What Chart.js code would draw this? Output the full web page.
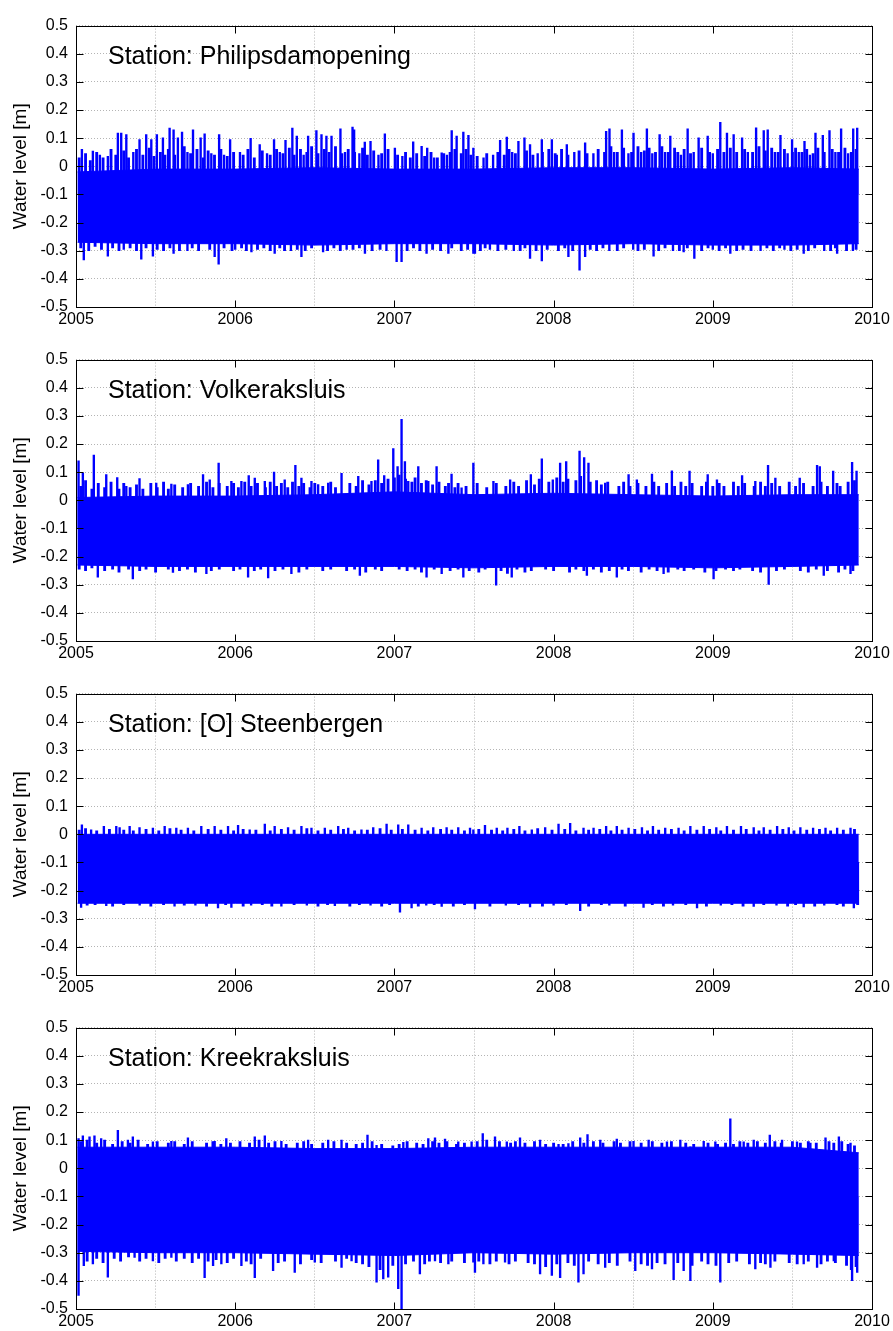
<!DOCTYPE html>
<html>
<head>
<meta charset="utf-8">
<script src="https://cdn.jsdelivr.net/npm/chart.js@4.4.1/dist/chart.umd.min.js"></script>
<style>
html, body { margin: 0; padding: 0; background: #ffffff; width: 893px; height: 1331px; overflow: hidden; }
.panel { position: absolute; left: 0; width: 893px; height: 320px; }
canvas { display: block; }
</style>
</head>
<body>
<div class="panel" style="top:8px"><canvas id="c0" width="893" height="320"></canvas></div>
<div class="panel" style="top:342px"><canvas id="c1" width="893" height="320"></canvas></div>
<div class="panel" style="top:676px"><canvas id="c2" width="893" height="320"></canvas></div>
<div class="panel" style="top:1010px"><canvas id="c3" width="893" height="320"></canvas></div>
<script>
// ---------------- DATA ----------------
const years = [2005, 2006, 2007, 2008, 2009, 2010];
const yTicks = [-0.5, -0.4, -0.3, -0.2, -0.1, 0, 0.1, 0.2, 0.3, 0.4, 0.5];
const stations = ['Station: Philipsdamopening', 'Station: Volkeraksluis', 'Station: [O] Steenbergen', 'Station: Kreekraksluis'];
const yLabel = 'Water level [m]';

// dense tidal band edges
const bandTimes = [2005.01, 2005.5, 2006.0, 2006.5, 2007.0, 2007.5, 2008.0, 2008.5, 2009.0, 2009.5, 2009.917];
const philTop    = [-0.02, -0.01, -0.01, -0.005, -0.01, -0.01, -0.005, -0.005, -0.01, -0.005, -0.01];
const philBottom = [-0.27, -0.275, -0.275, -0.28, -0.275, -0.275, -0.28, -0.275, -0.28, -0.28, -0.275];
const volkTop    = [0.01, 0.015, 0.015, 0.02, 0.03, 0.02, 0.025, 0.02, 0.015, 0.02, 0.02];
const volkBottom = [-0.23, -0.235, -0.235, -0.235, -0.235, -0.24, -0.235, -0.235, -0.24, -0.235, -0.23];
const steenTop    = [0.0, 0.0, 0.0, 0.0, 0.0, 0.0, 0.0, 0.0, 0.0, 0.0, 0.0];
const steenBottom = [-0.245, -0.245, -0.245, -0.245, -0.245, -0.245, -0.245, -0.245, -0.245, -0.245, -0.245];
const kreekTop    = [0.075, 0.075, 0.075, 0.07, 0.07, 0.075, 0.075, 0.075, 0.075, 0.075, 0.055];
const kreekBottom = [-0.295, -0.30, -0.30, -0.305, -0.31, -0.30, -0.305, -0.30, -0.30, -0.305, -0.31];

// spike extremes [time, level]
const philUp = [[2005.037,.060],[2005.106,.054],[2005.263,.118],[2005.284,.118],[2005.316,.113],[2005.399,.095],[2005.441,.113],[2005.473,.095],[2005.508,.113],[2005.546,.101],
 [2005.588,.136],[2005.613,.130],[2005.640,.101],[2005.666,.122],[2005.735,.130],[2005.783,.101],[2005.808,.115],[2005.899,.113],[2005.968,.095],
 [2006.097,.099],[2006.154,.077],[2006.244,.095],[2006.316,.092],[2006.359,.136],[2006.387,.107],[2006.458,.107],[2006.510,.127],[2006.542,.113],[2006.573,.107],
 [2006.605,.107],[2006.661,.133],[2006.737,.139],[2006.747,.130],[2006.814,.086],[2006.850,.089],[2006.940,.115],
 [2007.003,.065],[2007.118,.087],[2007.171,.071],[2007.206,.065],[2007.297,.048],[2007.360,.127],[2007.391,.107],[2007.433,.122],[2007.465,.110],[2007.496,.065],
 [2007.664,.092],[2007.706,.104],[2007.779,.089],[2007.817,.101],[2007.852,.077],[2007.926,.095],[2007.989,.095],
 [2008.083,.077],[2008.198,.083],[2008.330,.124],[2008.351,.133],[2008.429,.130],[2008.502,.118],[2008.586,.133],[2008.666,.113],[2008.733,.107],[2008.842,.133],[2008.911,.101],[2008.968,.107],
 [2009.047,.156],[2009.089,.118],[2009.131,.113],[2009.184,.101],[2009.272,.137],[2009.320,.127],[2009.345,.130],[2009.425,.110],[2009.498,.095],[2009.576,.089],[2009.645,.118],[2009.691,.110],[2009.733,.127],[2009.806,.133],[2009.882,.133],[2009.907,.136],
 [2005.15,.04],[2005.20,.035],[2005.36,.05],[2005.56,.04],[2005.70,.05],[2005.85,.045],[2005.93,.04],
 [2006.03,.05],[2006.20,.045],[2006.28,.05],[2006.43,.04],[2006.69,.05],[2006.78,.045],[2006.90,.04],
 [2007.05,.035],[2007.25,.03],[2007.33,.04],[2007.56,.03],[2007.62,.04],[2007.74,.05],[2007.90,.045],
 [2008.02,.04],[2008.13,.05],[2008.25,.045],[2008.38,.05],[2008.47,.045],[2008.55,.05],[2008.62,.045],[2008.70,.05],[2008.80,.04],[2008.88,.05],
 [2009.00,.045],[2009.22,.05],[2009.39,.05],[2009.47,.045],[2009.54,.05],[2009.61,.04],[2009.77,.05],[2009.85,.045]];
const philGrassUp = [[2005.02,.03],[2005.06,.045],[2005.09,.02],[2005.13,.05],[2005.17,.03],[2005.22,.06],[2005.25,.04],[2005.30,.055],[2005.33,.03],[2005.38,.06],
 [2005.42,.04],[2005.46,.065],[2005.49,.035],[2005.53,.05],[2005.58,.06],[2005.62,.04],[2005.68,.07],[2005.72,.045],[2005.76,.06],[2005.80,.03],[2005.83,.055],
 [2005.87,.04],[2005.91,.06],[2005.95,.035],[2005.99,.05],
 [2006.05,.04],[2006.08,.06],[2006.12,.03],[2006.17,.055],[2006.22,.04],[2006.26,.06],[2006.30,.045],[2006.34,.065],[2006.37,.04],[2006.41,.06],[2006.45,.05],
 [2006.48,.07],[2006.52,.045],[2006.56,.06],[2006.59,.05],[2006.63,.07],[2006.67,.045],[2006.71,.06],[2006.75,.05],[2006.80,.065],[2006.83,.04],[2006.87,.055],
 [2006.92,.045],[2006.96,.06],
 [2007.02,.04],[2007.07,.05],[2007.10,.03],[2007.14,.045],[2007.19,.035],[2007.23,.05],[2007.27,.03],[2007.31,.045],[2007.35,.05],[2007.38,.06],[2007.42,.045],
 [2007.45,.06],[2007.48,.04],[2007.52,.035],[2007.58,.045],[2007.65,.05],[2007.69,.04],[2007.72,.06],[2007.76,.045],[2007.83,.055],[2007.87,.04],[2007.93,.05],[2007.97,.06],
 [2008.01,.045],[2008.05,.06],[2008.09,.04],[2008.16,.055],[2008.21,.045],[2008.28,.06],[2008.32,.05],[2008.36,.07],[2008.40,.05],[2008.44,.065],[2008.49,.05],
 [2008.53,.07],[2008.57,.055],[2008.60,.065],[2008.64,.05],[2008.68,.07],[2008.72,.05],[2008.76,.065],[2008.78,.05],[2008.82,.06],[2008.86,.045],[2008.93,.065],[2008.98,.05],
 [2009.03,.06],[2009.07,.05],[2009.11,.065],[2009.15,.05],[2009.20,.06],[2009.25,.05],[2009.29,.07],[2009.33,.055],[2009.37,.065],[2009.41,.05],[2009.45,.06],
 [2009.50,.05],[2009.52,.065],[2009.56,.05],[2009.59,.06],[2009.63,.045],[2009.66,.065],[2009.70,.05],[2009.75,.06],[2009.79,.05],[2009.83,.065],[2009.87,.05],[2009.90,.06]];
const philDown = [[2005.049,-.333],[2005.200,-.319],[2005.410,-.330],[2005.483,-.319],[2005.613,-.310],[2005.871,-.321],[2005.896,-.348],[2006.102,-.304],[2006.248,-.310],
 [2006.416,-.321],[2006.552,-.304],[2006.815,-.310],[2007.014,-.339],[2007.045,-.339],[2007.202,-.310],[2007.339,-.310],[2007.496,-.310],[2007.506,-.310],
 [2007.852,-.327],[2007.926,-.336],[2008.093,-.321],[2008.163,-.369],[2008.198,-.321],[2008.628,-.319],[2008.817,-.304],[2008.884,-.327],[2009.110,-.310],[2009.571,-.310],[2009.781,-.310],
 [2005.30,-.295],[2005.70,-.30],[2006.00,-.295],[2006.35,-.30],[2006.70,-.295],[2006.95,-.30],[2007.60,-.295],[2007.75,-.30],[2008.35,-.30],[2008.50,-.295],
 [2008.75,-.30],[2009.00,-.295],[2009.30,-.30],[2009.45,-.295],[2009.70,-.30],[2009.88,-.30]];
const philGrassDown = [[2005.03,-.29],[2005.08,-.30],[2005.12,-.285],[2005.16,-.295],[2005.23,-.29],[2005.27,-.30],[2005.34,-.29],[2005.38,-.30],[2005.44,-.29],[2005.51,-.295],
 [2005.55,-.30],[2005.59,-.29],[2005.65,-.30],[2005.73,-.29],[2005.77,-.30],[2005.84,-.295],[2005.93,-.29],[2005.98,-.30],
 [2006.04,-.29],[2006.07,-.30],[2006.14,-.295],[2006.18,-.29],[2006.22,-.30],[2006.28,-.29],[2006.31,-.30],[2006.39,-.295],[2006.44,-.30],[2006.48,-.29],[2006.58,-.30],
 [2006.62,-.29],[2006.66,-.30],[2006.74,-.295],[2006.78,-.29],[2006.86,-.30],[2006.91,-.295],
 [2007.08,-.30],[2007.12,-.29],[2007.16,-.30],[2007.24,-.295],[2007.29,-.30],[2007.36,-.29],[2007.42,-.30],[2007.46,-.295],[2007.54,-.30],[2007.57,-.29],[2007.65,-.30],
 [2007.70,-.295],[2007.79,-.30],[2007.82,-.29],[2007.89,-.30],[2007.96,-.295],
 [2008.03,-.30],[2008.07,-.29],[2008.12,-.30],[2008.23,-.295],[2008.27,-.30],[2008.31,-.29],[2008.40,-.30],[2008.44,-.29],[2008.53,-.30],[2008.57,-.295],[2008.66,-.30],
 [2008.70,-.29],[2008.79,-.30],[2008.84,-.29],[2008.93,-.30],[2008.97,-.29],
 [2009.04,-.30],[2009.08,-.29],[2009.15,-.30],[2009.19,-.295],[2009.24,-.30],[2009.34,-.29],[2009.38,-.30],[2009.42,-.29],[2009.49,-.30],[2009.53,-.295],[2009.60,-.30],
 [2009.64,-.29],[2009.74,-.30],[2009.77,-.29],[2009.84,-.30],[2009.90,-.295]];

const volkUp = [[2005.016,.140],[2005.043,.097],[2005.112,.161],[2005.190,.091],[2005.259,.081],[2005.316,.050],[2005.399,.077],[2005.504,.061],[2005.599,.058],[2005.703,.056],
 [2005.798,.091],[2005.840,.073],[2005.896,.132],[2005.976,.067],[2006.039,.067],[2006.085,.088],[2006.123,.079],[2006.186,.067],[2006.244,.100],[2006.311,.073],
 [2006.378,.124],[2006.416,.079],[2006.479,.067],[2006.521,.056],[2006.584,.061],[2006.668,.096],[2006.773,.085],[2006.856,.067],[2006.898,.144],[2006.936,.088],
 [2006.993,.184],[2007.020,.120],[2007.045,.288],[2007.066,.138],[2007.087,.067],[2007.150,.120],[2007.213,.067],[2007.265,.120],[2007.359,.093],[2007.422,.044],[2007.496,.132],
 [2007.622,.067],[2007.727,.073],[2007.857,.091],[2007.926,.147],[2007.995,.073],[2008.041,.132],[2008.079,.138],[2008.163,.175],[2008.192,.152],[2008.219,.132],
 [2008.324,.061],[2008.471,.091],[2008.523,.073],[2008.618,.093],[2008.743,.105],[2008.854,.104],[2008.968,.091],[2009.026,.073],[2009.184,.088],[2009.267,.067],
 [2009.347,.124],[2009.393,.079],[2009.546,.079],[2009.655,.124],[2009.672,.120],[2009.756,.104],[2009.875,.135],[2009.903,.104]];
const volkGrassUp = [[2005.03,.05],[2005.06,.07],[2005.10,.04],[2005.14,.06],[2005.18,.045],[2005.22,.065],[2005.27,.04],[2005.30,.06],[2005.34,.045],[2005.38,.055],
 [2005.42,.04],[2005.47,.06],[2005.51,.045],[2005.55,.065],[2005.58,.04],[2005.62,.055],[2005.67,.045],[2005.72,.06],[2005.77,.05],[2005.82,.065],[2005.86,.045],
 [2005.90,.06],[2005.95,.05],[2005.99,.06],
 [2006.02,.045],[2006.06,.065],[2006.10,.05],[2006.14,.06],[2006.19,.045],[2006.22,.065],[2006.26,.05],[2006.29,.06],[2006.33,.045],[2006.36,.065],[2006.40,.05],
 [2006.43,.06],[2006.47,.045],[2006.50,.06],[2006.55,.05],[2006.60,.065],[2006.63,.045],[2006.72,.06],[2006.76,.05],[2006.80,.07],[2006.84,.055],[2006.88,.07],
 [2006.92,.06],[2006.96,.075],
 [2007.00,.08],[2007.03,.09],[2007.07,.075],[2007.11,.065],[2007.13,.08],[2007.17,.06],[2007.20,.07],[2007.24,.055],[2007.28,.065],[2007.32,.05],[2007.34,.06],
 [2007.38,.045],[2007.40,.06],[2007.45,.05],[2007.52,.06],[2007.58,.045],[2007.64,.06],[2007.70,.05],[2007.75,.065],[2007.78,.05],[2007.83,.07],[2007.88,.055],
 [2007.91,.075],[2007.97,.065],
 [2008.02,.08],[2008.06,.065],[2008.09,.075],[2008.14,.07],[2008.17,.085],[2008.23,.065],[2008.27,.07],[2008.30,.055],[2008.34,.065],[2008.41,.05],[2008.44,.065],
 [2008.48,.05],[2008.53,.06],[2008.58,.05],[2008.63,.065],[2008.66,.05],[2008.71,.06],[2008.76,.05],[2008.80,.065],[2008.83,.05],[2008.87,.06],[2008.93,.05],[2008.96,.065],
 [2009.00,.05],[2009.04,.06],[2009.07,.05],[2009.13,.065],[2009.16,.05],[2009.20,.06],[2009.26,.05],[2009.30,.065],[2009.33,.05],[2009.37,.06],[2009.42,.05],
 [2009.48,.065],[2009.52,.05],[2009.57,.06],[2009.63,.05],[2009.68,.065],[2009.72,.05],[2009.78,.06],[2009.80,.05],[2009.85,.065],[2009.89,.07]];
const volkDown = [[2005.137,-.273],[2005.357,-.279],[2005.609,-.256],[2005.819,-.261],[2006.081,-.273],[2006.207,-.276],[2006.353,-.261],[2006.783,-.267],[2007.202,-.273],
 [2007.297,-.261],[2007.433,-.273],[2007.639,-.302],[2007.737,-.273],[2008.209,-.267],[2008.397,-.273],[2008.691,-.261],[2009.005,-.279],[2009.351,-.299],[2009.697,-.267],[2009.865,-.261]];
const volkGrassDown = [[2005.02,-.245],[2005.06,-.25],[2005.10,-.24],[2005.18,-.25],[2005.23,-.245],[2005.27,-.255],[2005.33,-.245],[2005.40,-.25],[2005.44,-.245],[2005.50,-.255],
 [2005.58,-.245],[2005.65,-.25],[2005.70,-.245],[2005.75,-.255],[2005.85,-.25],[2005.90,-.245],[2005.99,-.25],
 [2006.03,-.245],[2006.12,-.25],[2006.16,-.245],[2006.25,-.25],[2006.30,-.245],[2006.40,-.255],[2006.45,-.245],[2006.55,-.25],[2006.60,-.245],[2006.70,-.25],
 [2006.75,-.245],[2006.82,-.255],[2006.88,-.245],[2006.92,-.25],
 [2007.03,-.245],[2007.08,-.25],[2007.13,-.245],[2007.17,-.255],[2007.25,-.245],[2007.35,-.25],[2007.40,-.245],[2007.47,-.25],[2007.53,-.255],[2007.57,-.245],
 [2007.67,-.25],[2007.71,-.26],[2007.77,-.245],[2007.82,-.255],[2007.86,-.25],[2007.95,-.245],
 [2008.00,-.25],[2008.10,-.255],[2008.14,-.245],[2008.19,-.25],[2008.25,-.245],[2008.30,-.255],[2008.35,-.25],[2008.43,-.245],[2008.47,-.25],[2008.55,-.255],
 [2008.60,-.245],[2008.65,-.25],[2008.72,-.255],[2008.78,-.245],[2008.82,-.25],[2008.88,-.245],[2008.95,-.255],
 [2009.02,-.25],[2009.08,-.245],[2009.13,-.25],[2009.17,-.245],[2009.25,-.25],[2009.30,-.255],[2009.40,-.25],[2009.45,-.245],[2009.55,-.25],[2009.60,-.255],
 [2009.65,-.245],[2009.72,-.25],[2009.79,-.255],[2009.83,-.245],[2009.88,-.25]];

const steenUp = [[2005.037,.034],[2005.095,.016],[2005.175,.028],[2005.253,.028],[2005.274,.024],[2005.337,.028],[2005.399,.024],[2005.483,.022],[2005.557,.028],[2005.630,.022],
 [2005.703,.022],[2005.787,.028],[2005.871,.028],[2005.955,.028],[2006.018,.032],[2006.091,.016],[2006.186,.036],[2006.248,.028],[2006.332,.024],[2006.416,.028],
 [2006.479,.022],[2006.563,.022],[2006.647,.028],[2006.710,.022],[2006.793,.016],[2006.867,.024],[2006.951,.036],[2007.024,.034],[2007.087,.034],[2007.171,.022],
 [2007.244,.024],[2007.328,.024],[2007.401,.024],[2007.475,.022],[2007.496,.016],[2007.569,.032],[2007.643,.022],[2007.710,.022],[2007.785,.028],[2007.863,.016],
 [2007.947,.024],[2008.031,.036],[2008.104,.039],[2008.188,.022],[2008.251,.022],[2008.330,.028],[2008.397,.028],[2008.471,.022],[2008.555,.024],[2008.624,.028],
 [2008.701,.022],[2008.785,.022],[2008.859,.028],[2008.943,.028],[2009.022,.024],[2009.089,.028],[2009.177,.028],[2009.257,.024],[2009.320,.024],[2009.404,.028],
 [2009.477,.024],[2009.550,.024],[2009.630,.022],[2009.708,.022],[2009.781,.022],[2009.865,.022]];
const steenGrassUp = [[2005.02,.015],[2005.06,.02],[2005.13,.012],[2005.21,.018],[2005.30,.015],[2005.36,.012],[2005.44,.018],[2005.52,.012],[2005.59,.02],[2005.66,.015],
 [2005.74,.012],[2005.83,.018],[2005.91,.015],[2005.99,.012],
 [2006.05,.018],[2006.13,.015],[2006.22,.012],[2006.29,.018],[2006.37,.015],[2006.45,.02],[2006.52,.012],[2006.60,.015],[2006.68,.018],[2006.75,.012],[2006.83,.015],
 [2006.91,.02],[2006.98,.015],
 [2007.05,.018],[2007.13,.015],[2007.21,.012],[2007.29,.018],[2007.36,.015],[2007.44,.012],[2007.53,.018],[2007.61,.015],[2007.68,.012],[2007.75,.018],[2007.82,.012],
 [2007.90,.02],[2007.99,.015],
 [2008.07,.018],[2008.14,.012],[2008.22,.015],[2008.29,.018],[2008.36,.012],[2008.43,.015],[2008.51,.018],[2008.59,.012],[2008.66,.015],[2008.74,.018],[2008.82,.012],
 [2008.90,.015],[2008.98,.018],
 [2009.05,.012],[2009.13,.015],[2009.21,.018],[2009.29,.012],[2009.36,.015],[2009.44,.018],[2009.51,.012],[2009.59,.015],[2009.67,.018],[2009.74,.012],[2009.82,.015],[2009.89,.018]];
const steenDown = [[2005.032,-.260],[2005.190,-.254],[2005.619,-.255],[2005.892,-.262],[2005.976,-.260],[2006.290,-.255],[2006.626,-.254],[2007.035,-.277],[2007.108,-.262],
 [2007.297,-.256],[2007.506,-.265],[2007.852,-.258],[2008.167,-.271],[2008.565,-.260],[2008.901,-.262],[2009.257,-.256],[2009.571,-.258],[2009.886,-.262],
 [2005.40,-.252],[2005.75,-.252],[2006.10,-.252],[2006.45,-.252],[2006.85,-.252],[2007.20,-.252],[2007.70,-.252],[2008.00,-.252],[2008.35,-.252],[2008.75,-.252],
 [2009.05,-.252],[2009.40,-.252],[2009.70,-.252]];
const steenGrassDown = [[2005.07,-.252],[2005.12,-.25],[2005.23,-.255],[2005.30,-.25],[2005.47,-.255],[2005.55,-.25],[2005.68,-.252],[2005.82,-.255],[2005.94,-.25],
 [2006.05,-.255],[2006.17,-.25],[2006.23,-.255],[2006.37,-.25],[2006.52,-.255],[2006.58,-.25],[2006.72,-.255],[2006.78,-.25],[2006.92,-.255],[2006.97,-.25],
 [2007.15,-.255],[2007.25,-.25],[2007.37,-.255],[2007.44,-.25],[2007.60,-.255],[2007.78,-.25],[2007.93,-.255],[2008.08,-.25],[2008.22,-.255],[2008.30,-.25],
 [2008.45,-.255],[2008.62,-.25],[2008.69,-.255],[2008.83,-.25],[2008.96,-.255],[2009.12,-.25],[2009.19,-.255],[2009.32,-.25],[2009.47,-.255],[2009.52,-.25],
 [2009.64,-.255],[2009.78,-.25],[2009.82,-.255],[2009.91,-.25]];

const kreekUp = [[2005.016,.106],[2005.043,.115],[2005.085,.112],[2005.116,.115],[2005.158,.106],[2005.263,.135],[2005.326,.100],[2005.357,.112],[2005.483,.094],[2005.599,.096],
 [2005.703,.108],[2005.871,.096],[2005.944,.106],[2006.123,.112],[2006.186,.115],[2006.290,.096],[2006.458,.100],[2006.584,.100],[2006.668,.100],[2006.831,.118],
 [2006.888,.082],[2007.056,.092],[2007.213,.106],[2007.255,.108],[2007.318,.104],[2007.401,.094],[2007.485,.094],
 [2007.555,.123],[2007.632,.112],[2007.706,.094],[2007.789,.108],[2007.915,.100],[2008.031,.085],[2008.093,.088],[2008.167,.108],[2008.213,.120],[2008.293,.100],
 [2008.397,.104],[2008.502,.096],[2008.597,.100],[2008.712,.094],[2008.796,.100],[2008.859,.076],[2008.943,.096],[2009.016,.094],[2009.110,.176],[2009.194,.094],
 [2009.257,.100],[2009.358,.118],[2009.435,.100],[2009.529,.094],[2009.613,.090],[2009.708,.108],[2009.792,.112],[2009.865,.090]];
const kreekGrassUp = [[2005.03,.095],[2005.07,.10],[2005.13,.09],[2005.18,.10],[2005.23,.085],[2005.29,.095],[2005.34,.09],[2005.39,.10],[2005.45,.085],[2005.51,.095],
 [2005.58,.09],[2005.62,.095],[2005.68,.085],[2005.73,.095],[2005.82,.09],[2005.86,.095],[2005.91,.085],[2005.97,.09],
 [2006.03,.095],[2006.09,.09],[2006.15,.10],[2006.21,.09],[2006.25,.095],[2006.32,.085],[2006.39,.09],[2006.43,.095],[2006.48,.085],[2006.55,.09],[2006.62,.095],
 [2006.70,.09],[2006.76,.085],[2006.80,.09],[2006.86,.095],[2006.92,.085],[2006.99,.08],
 [2007.03,.085],[2007.08,.095],[2007.14,.09],[2007.18,.085],[2007.24,.095],[2007.28,.09],[2007.33,.095],[2007.39,.085],[2007.44,.09],[2007.52,.095],[2007.58,.10],
 [2007.66,.095],[2007.73,.09],[2007.76,.095],[2007.82,.09],[2007.88,.095],[2007.95,.085],
 [2008.00,.09],[2008.06,.085],[2008.12,.095],[2008.19,.09],[2008.25,.095],[2008.31,.09],[2008.38,.095],[2008.42,.09],[2008.48,.095],[2008.55,.09],[2008.62,.095],
 [2008.68,.09],[2008.74,.095],[2008.83,.09],[2008.88,.085],[2008.97,.09],
 [2009.03,.085],[2009.08,.09],[2009.13,.085],[2009.17,.095],[2009.22,.09],[2009.28,.095],[2009.33,.09],[2009.39,.095],[2009.43,.09],[2009.50,.095],[2009.55,.09],
 [2009.60,.095],[2009.65,.09],[2009.73,.095],[2009.76,.09],[2009.81,.095],[2009.85,.085],[2009.89,.08]];
const kreekDown = [[2005.016,-.452],[2005.049,-.346],[2005.106,-.340],[2005.200,-.387],[2005.368,-.317],[2005.483,-.329],[2005.599,-.317],[2005.808,-.389],[2005.861,-.346],
 [2005.913,-.340],[2006.039,-.346],[2006.123,-.389],[2006.238,-.364],[2006.374,-.370],[2006.500,-.334],[2006.668,-.352],[2006.731,-.329],[2006.888,-.405],[2006.930,-.393],
 [2006.961,-.387],[2007.024,-.428],[2007.045,-.499],[2007.160,-.375],[2007.255,-.329],[2007.339,-.340],[2007.496,-.334],
 [2007.506,-.370],[2007.559,-.340],[2007.695,-.334],[2007.915,-.375],[2007.989,-.381],[2008.041,-.389],[2008.156,-.405],[2008.188,-.375],[2008.324,-.352],[2008.513,-.364],
 [2008.618,-.358],[2008.754,-.396],[2008.817,-.364],[2008.859,-.399],[2009.047,-.405],[2009.267,-.358],[2009.362,-.352],[2009.571,-.340],[2009.655,-.352],[2009.760,-.329],
 [2009.875,-.399],[2009.907,-.370]];
const kreekGrassDown = [[2005.07,-.33],[2005.13,-.32],[2005.17,-.335],[2005.24,-.32],[2005.28,-.33],[2005.33,-.315],[2005.40,-.33],[2005.44,-.32],[2005.52,-.335],[2005.56,-.32],
 [2005.63,-.33],[2005.68,-.32],[2005.73,-.335],[2005.77,-.32],[2005.83,-.33],[2005.88,-.325],[2005.95,-.335],[2005.99,-.32],
 [2006.07,-.33],[2006.10,-.34],[2006.16,-.32],[2006.27,-.335],[2006.31,-.33],[2006.41,-.34],[2006.48,-.325],[2006.54,-.335],[2006.63,-.33],[2006.70,-.32],
 [2006.76,-.335],[2006.80,-.34],[2006.84,-.35],[2006.91,-.36],[2006.99,-.345],
 [2007.07,-.34],[2007.12,-.33],[2007.19,-.34],[2007.22,-.33],[2007.29,-.335],[2007.36,-.33],[2007.44,-.335],[2007.53,-.33],[2007.60,-.34],[2007.64,-.33],[2007.72,-.34],
 [2007.76,-.33],[2007.84,-.335],[2007.88,-.34],[2007.95,-.35],
 [2008.02,-.34],[2008.09,-.335],[2008.13,-.345],[2008.22,-.33],[2008.28,-.34],[2008.35,-.335],[2008.40,-.345],[2008.48,-.33],[2008.55,-.34],[2008.59,-.345],
 [2008.65,-.335],[2008.70,-.34],[2008.78,-.335],[2008.87,-.345],[2008.93,-.33],[2008.97,-.34],
 [2009.02,-.345],[2009.10,-.335],[2009.15,-.33],[2009.23,-.34],[2009.30,-.335],[2009.33,-.34],[2009.39,-.33],[2009.48,-.335],[2009.53,-.34],[2009.60,-.33],
 [2009.68,-.34],[2009.72,-.33],[2009.77,-.335],[2009.84,-.345],[2009.87,-.36],[2009.90,-.35]];

const SPIKE_BASE = -0.1;   // level inside every band where spike bars start

// ---------------- STYLE ----------------
const BLUE = '#0000ff';
const GRID = '#b4b4b4';
const AXIS_FONT = 'Arial, "Liberation Sans", Helvetica, sans-serif';

const matlabBox = {
  id: 'matlabBox',
  afterDatasetsDraw(chart, args, opts) {
    const { ctx, chartArea, scales } = chart;
    const { left, right, top, bottom } = chartArea;
    const L = Math.round(left) + 0.5, R = Math.round(right) + 0.5;
    const T = Math.round(top) + 0.5, B = Math.round(bottom) + 0.5;
    const TL = 7;
    ctx.save();
    ctx.strokeStyle = '#000';
    ctx.lineWidth = 1;
    ctx.beginPath();
    scales.x.ticks.forEach(t => {
      const px = Math.round(scales.x.getPixelForValue(t.value)) + 0.5;
      if (Math.abs(px - L) < 1 || Math.abs(px - R) < 1) return;
      ctx.moveTo(px, B); ctx.lineTo(px, B - TL);
      ctx.moveTo(px, T); ctx.lineTo(px, T + TL);
    });
    scales.y.ticks.forEach(t => {
      const py = Math.round(scales.y.getPixelForValue(t.value)) + 0.5;
      if (Math.abs(py - T) < 1 || Math.abs(py - B) < 1) return;
      ctx.moveTo(L, py); ctx.lineTo(L + TL, py);
      ctx.moveTo(R, py); ctx.lineTo(R - TL, py);
    });
    ctx.stroke();
    ctx.strokeRect(L, T, R - L, B - T);
    ctx.fillStyle = '#000';
    ctx.font = '25px ' + AXIS_FONT;
    ctx.textBaseline = 'alphabetic';
    ctx.textAlign = 'left';
    ctx.fillText(opts.label, left + 32, top + 38);
    ctx.restore();
  }
};

function fmtY(v) {
  const r = Math.round(v * 10) / 10;
  return r === 0 ? '0' : String(r);
}

function spikeBars(list) {
  return list.map(p => ({ x: p[0], y: [SPIKE_BASE, p[1]] }));
}

function makeChart(id, label, top, bottom, up, grassUp, down, grassDown) {
  const spikeStyle = { type: 'bar', backgroundColor: BLUE, borderWidth: 0, barThickness: 1.7, grouped: false };
  const grassStyle = { type: 'bar', backgroundColor: BLUE, borderWidth: 0, barThickness: 2.2, grouped: false };
  new Chart(document.getElementById(id), {
    type: 'line',
    data: {
      datasets: [
        { type: 'line', data: bandTimes.map((t, i) => ({ x: t, y: top[i] })), borderColor: BLUE, backgroundColor: BLUE,
          borderWidth: 1, pointRadius: 0, fill: '+1', tension: 0 },
        { type: 'line', data: bandTimes.map((t, i) => ({ x: t, y: bottom[i] })), borderColor: BLUE, backgroundColor: BLUE,
          borderWidth: 1, pointRadius: 0, fill: false, tension: 0 },
        Object.assign({ data: spikeBars(up) }, spikeStyle),
        Object.assign({ data: spikeBars(grassUp) }, grassStyle),
        Object.assign({ data: spikeBars(down) }, spikeStyle),
        Object.assign({ data: spikeBars(grassDown) }, grassStyle)
      ]
    },
    options: {
      responsive: false,
      animation: false,
      events: [],
      layout: { padding: { left: 0, right: 21, top: 15, bottom: 0 } },
      plugins: {
        legend: { display: false },
        tooltip: { enabled: false },
        matlabBox: { label: label }
      },
      scales: {
        x: {
          type: 'linear', min: 2005, max: 2010, offset: false,
          afterBuildTicks(s) { s.ticks = years.map(v => ({ value: v })); },
          ticks: { callback: v => String(v), font: { family: AXIS_FONT, size: 16 }, color: '#000', padding: 3, maxRotation: 0, autoSkip: false },
          grid: { color: GRID, lineWidth: 1, drawTicks: false },
          border: { display: false, dash: [1, 2] },
          afterFit(s) { s.height = 21; }
        },
        y: {
          type: 'linear', min: -0.5, max: 0.5,
          afterBuildTicks(s) { s.ticks = yTicks.map(v => ({ value: v })); },
          ticks: { callback: fmtY, font: { family: AXIS_FONT, size: 16 }, color: '#000', padding: 8 },
          grid: { color: GRID, lineWidth: 1, drawTicks: false },
          border: { display: false, dash: [1, 2] },
          title: { display: true, text: yLabel, font: { family: AXIS_FONT, size: 19 }, color: '#000', padding: { top: 9, bottom: 0 } },
          afterFit(s) { s.width = 76; }
        }
      }
    },
    plugins: [matlabBox]
  });
}

makeChart('c0', stations[0], philTop, philBottom, philUp, philGrassUp, philDown, philGrassDown);
makeChart('c1', stations[1], volkTop, volkBottom, volkUp, volkGrassUp, volkDown, volkGrassDown);
makeChart('c2', stations[2], steenTop, steenBottom, steenUp, steenGrassUp, steenDown, steenGrassDown);
makeChart('c3', stations[3], kreekTop, kreekBottom, kreekUp, kreekGrassUp, kreekDown, kreekGrassDown);
</script>
</body>
</html>
